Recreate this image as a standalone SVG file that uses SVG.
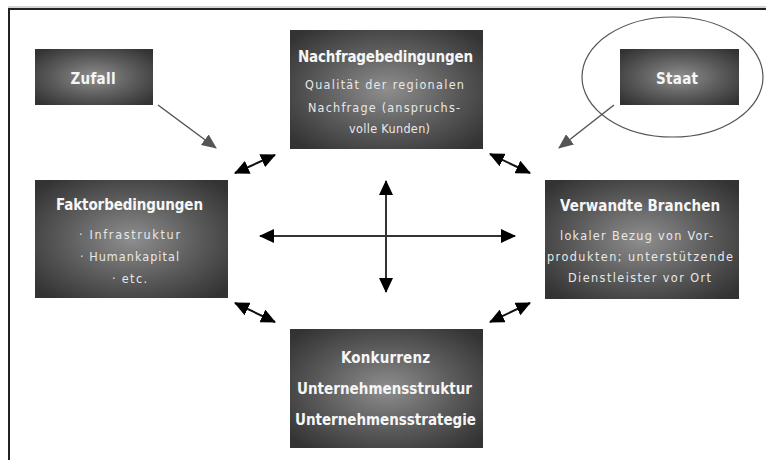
<svg xmlns="http://www.w3.org/2000/svg" width="766" height="460" viewBox="0 0 766 460">
<style>
.box{fill:url(#bg);}
.t{font-family:"DejaVu Sans Condensed","DejaVu Sans",sans-serif;font-weight:bold;font-size:15px;fill:#f6f6f6;text-anchor:middle;}
.s{font-family:"DejaVu Sans Condensed","DejaVu Sans",sans-serif;font-weight:normal;font-size:12.5px;fill:#e8e8e8;text-anchor:middle;}
.dbl{stroke:#111;stroke-width:2;fill:none;marker-start:url(#hb);marker-end:url(#hb);}
.crs{stroke:#333;stroke-width:2;fill:none;marker-start:url(#hb);marker-end:url(#hb);}
.gry{stroke:#555;stroke-width:1.5;fill:none;marker-end:url(#hg);}
</style>
<defs>
<radialGradient id="bg" cx="0.5" cy="0.5" r="0.65">
<stop offset="0" stop-color="#8e8e8e"/>
<stop offset="0.55" stop-color="#5a5a5a"/>
<stop offset="1" stop-color="#333333"/>
</radialGradient>
<marker id="hb" viewBox="0 0 15 14" refX="14" refY="7" markerWidth="15" markerHeight="14" markerUnits="userSpaceOnUse" orient="auto-start-reverse">
<path d="M0,0 L15,7 L0,14 z" fill="#000"/>
</marker>
<marker id="hg" viewBox="0 0 15 13" refX="14" refY="6.5" markerWidth="15" markerHeight="13" markerUnits="userSpaceOnUse" orient="auto">
<path d="M0,0 L15,6.5 L0,13 z" fill="#555"/>
</marker>
</defs>
<rect width="766" height="460" fill="#fff"/>
<line x1="8" y1="7" x2="766" y2="7" stroke="#aaa" stroke-width="1"/>
<line x1="8" y1="9" x2="766" y2="9" stroke="#222" stroke-width="2"/>
<line x1="9" y1="8" x2="9" y2="460" stroke="#222" stroke-width="2"/>

<ellipse cx="672.5" cy="77" rx="90.5" ry="60" fill="none" stroke="#555" stroke-width="1.2"/>

<g id="connectors">
<line class="gry" x1="158" y1="105" x2="216" y2="148"/>
<line class="gry" x1="614" y1="105" x2="559" y2="148"/>
<line class="dbl" x1="235" y1="173" x2="275" y2="155"/>
<line class="dbl" x1="490" y1="154" x2="530" y2="173"/>
<line class="dbl" x1="235" y1="303" x2="275" y2="322"/>
<line class="dbl" x1="490" y1="322" x2="530" y2="303"/>
<line class="crs" x1="260" y1="236" x2="515" y2="236"/>
<line class="crs" x1="386" y1="181" x2="386" y2="292"/>
</g>

<g id="zufall">
<rect class="box" x="35" y="49" width="118" height="56"/>
<text class="t" x="93" y="84" textLength="45" lengthAdjust="spacing">Zufall</text>
</g>

<g id="staat">
<rect class="box" x="620" y="49" width="119" height="56"/>
<text class="t" x="677" y="84" textLength="42" lengthAdjust="spacing">Staat</text>
</g>

<g id="nachfrage">
<rect class="box" x="290" y="30" width="193" height="119"/>
<text class="t" x="385.5" y="62" textLength="175" lengthAdjust="spacing">Nachfragebedingungen</text>
<text class="s" x="384.5" y="89" textLength="159" lengthAdjust="spacing">Qualität der regionalen</text>
<text class="s" x="384" y="112" textLength="152" lengthAdjust="spacing">Nachfrage (anspruchs-</text>
<text class="s" x="389.5" y="133" textLength="81" lengthAdjust="spacing">volle Kunden)</text>
</g>

<g id="faktor">
<rect class="box" x="35" y="180" width="193" height="118"/>
<text class="t" x="129.5" y="210" textLength="147" lengthAdjust="spacing">Faktorbedingungen</text>
<text class="s" x="129.5" y="239" textLength="101" lengthAdjust="spacing">· Infrastruktur</text>
<text class="s" x="129.5" y="261" textLength="99" lengthAdjust="spacing">· Humankapital</text>
<text class="s" x="129.5" y="283" textLength="35" lengthAdjust="spacing">· etc.</text>
</g>

<g id="verwandte">
<rect class="box" x="545" y="180" width="194" height="119"/>
<text class="t" x="640" y="211" textLength="160" lengthAdjust="spacing">Verwandte Branchen</text>
<text class="s" x="636.5" y="240" textLength="153" lengthAdjust="spacing">lokaler Bezug von Vor-</text>
<text class="s" x="640" y="261" textLength="186" lengthAdjust="spacing">produkten; unterstützende</text>
<text class="s" x="639.5" y="282" textLength="143" lengthAdjust="spacing">Dienstleister vor Ort</text>
</g>

<g id="konkurrenz">
<rect class="box" x="290" y="329" width="193" height="119"/>
<text class="t" x="385.5" y="363" textLength="89" lengthAdjust="spacing">Konkurrenz</text>
<text class="t" x="384.5" y="394" textLength="175" lengthAdjust="spacing">Unternehmensstruktur</text>
<text class="t" x="385.5" y="425" textLength="181" lengthAdjust="spacing">Unternehmensstrategie</text>
</g>
</svg>
